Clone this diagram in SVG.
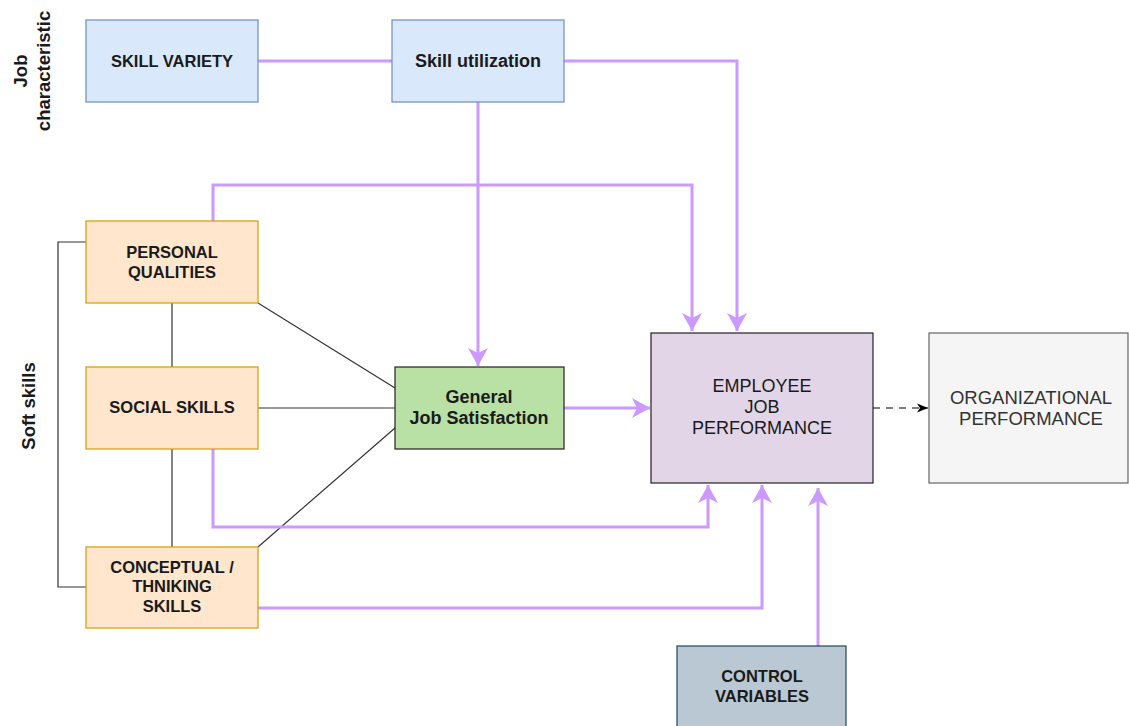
<svg xmlns="http://www.w3.org/2000/svg" width="1129" height="726" viewBox="0 0 1129 726">
<style>
.t{font-family:"Liberation Sans",Arial,sans-serif;font-size:16.5px;text-anchor:middle;fill:#1a1a1a}
.b{font-weight:bold}
.m{font-size:18px}
.n{font-size:18.5px}
.blue{fill:#dae8fc;stroke:#6c8ebf;stroke-width:1.2}
.orange{fill:#ffe6cc;stroke:#d79b00;stroke-width:1.2}
.p{fill:none;stroke:#cc99ff;stroke-width:3}
.k{fill:none;stroke:#333;stroke-width:1.2}
</style>
<defs>
<marker id="ah" markerUnits="userSpaceOnUse" markerWidth="20" markerHeight="22" viewBox="0 0 20 22" refX="18" refY="11" orient="auto">
<path d="M0,1 L18,11 L0,21 L5,11 Z" fill="#cc99ff"/>
</marker>
<marker id="bh" markerUnits="userSpaceOnUse" markerWidth="12" markerHeight="12" viewBox="0 0 12 12" refX="11" refY="6" orient="auto">
<path d="M0,1.5 L11,6 L0,10.5 L3,6 Z" fill="#000"/>
</marker>
</defs>
<rect width="1129" height="726" fill="#fff"/>
<g id="labels">
<text class="t b n" transform="translate(27,71) rotate(-90)">Job</text>
<text class="t b n" transform="translate(50,71) rotate(-90)">characteristic</text>
<text class="t b n" transform="translate(35,406) rotate(-90)">Soft skills</text>
</g>
<g id="connectors">
<path class="k" d="M86,242 H58 V587 H86"/>
<path class="k" d="M172,303 V367"/>
<path class="k" d="M172,449 V547"/>
<path class="k" d="M258,303 L395,388"/>
<path class="k" d="M258,408 H395"/>
<path class="k" d="M258,547 L395,428"/>
<path class="p" d="M258,61 H392"/>
<path class="p" d="M564,61 H737 V331" marker-end="url(#ah)"/>
<path class="p" d="M478,102 V366" marker-end="url(#ah)"/>
<path class="p" d="M213,221 V185 H692 V331" marker-end="url(#ah)"/>
<path class="p" d="M564,408 H650" marker-end="url(#ah)"/>
<path class="p" d="M213,449 V527 H708 V485" marker-end="url(#ah)"/>
<path class="p" d="M258,608 H762 V485" marker-end="url(#ah)"/>
<path class="p" d="M818,646 V488" marker-end="url(#ah)"/>
<path d="M873,408 H928" fill="none" stroke="#000" stroke-width="1.2" stroke-dasharray="7,6" marker-end="url(#bh)"/>
</g>
<g id="skill-variety">
<rect class="blue" x="86" y="20" width="172" height="82"/>
<text class="t b" x="172" y="67">SKILL VARIETY</text>
</g>
<g id="skill-utilization">
<rect class="blue" x="392" y="20" width="172" height="82"/>
<text class="t b m" x="478" y="67">Skill utilization</text>
</g>
<g id="personal-qualities">
<rect class="orange" x="86" y="221" width="172" height="82"/>
<text class="t b" x="172" y="258">PERSONAL</text>
<text class="t b" x="172" y="278">QUALITIES</text>
</g>
<g id="social-skills">
<rect class="orange" x="86" y="367" width="172" height="82"/>
<text class="t b" x="172" y="413">SOCIAL SKILLS</text>
</g>
<g id="conceptual-skills">
<rect class="orange" x="86" y="547" width="172" height="81"/>
<text class="t b" x="172" y="573">CONCEPTUAL /</text>
<text class="t b" x="172" y="592">THNIKING</text>
<text class="t b" x="172" y="612">SKILLS</text>
</g>
<g id="general-job-satisfaction">
<rect x="395" y="367" width="169" height="82" fill="#b9e0a5" stroke="#222" stroke-width="1.2"/>
<text class="t b m" x="479" y="403">General</text>
<text class="t b m" x="479" y="424">Job Satisfaction</text>
</g>
<g id="employee-job-performance">
<rect x="651" y="333" width="222" height="150" fill="#e1d5e7" stroke="#222" stroke-width="1.2"/>
<text class="t m" x="762" y="392">EMPLOYEE</text>
<text class="t m" x="762" y="413">JOB</text>
<text class="t m" x="762" y="434">PERFORMANCE</text>
</g>
<g id="organizational-performance">
<rect x="929" y="333" width="199" height="150" fill="#f5f5f5" stroke="#666" stroke-width="1.2"/>
<text class="t n" style="fill:#333" x="1031" y="404">ORGANIZATIONAL</text>
<text class="t n" style="fill:#333" x="1031" y="425">PERFORMANCE</text>
</g>
<g id="control-variables">
<rect x="677" y="646" width="169" height="85" fill="#bac8d3" stroke="#23445d" stroke-width="1.2"/>
<text class="t b" x="762" y="682">CONTROL</text>
<text class="t b" x="762" y="702">VARIABLES</text>
</g>
</svg>
